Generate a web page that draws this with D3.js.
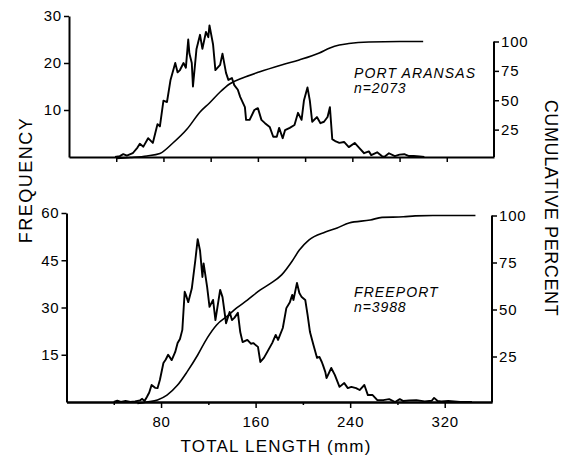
<!DOCTYPE html>
<html>
<head>
<meta charset="utf-8">
<script src="https://cdn.jsdelivr.net/npm/d3@7"></script>
<style>
  html, body { margin: 0; padding: 0; background: #fff; }
  svg { display: block; }
  text { font-family: "Liberation Sans", Arial, Helvetica, sans-serif; fill: #000; }
</style>
</head>
<body>
<svg id="chart" width="564" height="456"></svg>
<script>
// Total length axis (mm), shared by both panels
const lengthDomain = [0, 360];
const lengthTicksMinor = [40, 120, 200, 280];
const lengthTicksMajor = [80, 160, 240, 320];
const lengthTicksAll = [40, 80, 120, 160, 200, 240, 280, 320];

// Port Aransas: frequency by total length
const paLength = [39,43,46,49,54,58,60,63,67,71,75,77,80,83,86,90,92,94,97,99,101,102,104,105,108,111,113,116,118,119,122,124,128,130,133,135,138,140,143,145,149,150,153,157,160,163,166,170,173,176,178,181,183,187,191,194,197,199,202,204,206,210,213,216,219,221,223,226,229,233,237,242,246,250,254,256,261,265,267,271,276,280,284,288,292,297,301];
const paFreq   = [0,0.2,0.6,0.3,0.8,2,2.8,2.2,4,3,7,6.5,12,11.7,16.4,20,18,18.5,20,19,25,22,20,15,23,26,23,26.6,25.5,28,24,18.5,19.6,22,17.9,16.4,16.8,15.3,14.3,12.8,10.6,7.9,7.9,10,10.4,7.9,7.2,6.4,4.3,4.3,6.2,4,5.7,6.2,6.8,9.4,7.9,12,14.8,12,7.5,8.5,7.2,7.5,8.5,10.6,3.8,3.3,3,3.2,2.1,3,1.9,0.8,1.2,0.4,1,0.2,0,0.8,0.2,0.5,0.6,0.2,0.2,0.1,0];
// Port Aransas: cumulative percent
const paCumLength = [40,52,66,77,88,100,111,119,128,136,147,161,180,195,212,221,229,237,254,280,300];
const paCumPct    = [0.5,1.3,2.6,4.7,13.6,25.5,40,47.7,57,63.8,68.9,74,80,84.3,90.2,94.5,97,98.3,99.6,100,100];

// Freeport: frequency by total length
const fpLength = [40,43,46,50,54,58,62,64,66,68,70,72,75,77,79,82,84,86,89,92,94,96,98,100,101,103,106,109,111,113,115,116,119,121,124,126,130,132,135,138,140,142,145,147,149,153,156,158,162,164,167,170,174,177,179,183,186,189,191,192,195,197,199,202,204,206,209,212,214,216,217,219,220,224,227,231,235,238,241,245,248,252,255,259,263,268,273,278,282,285,290,296,303,309,311,314,317,323,333,343];
const fpFreq   = [0,0.4,0,0.3,0,0.2,0.5,1,0.3,1.6,3,5.4,4.5,4.4,7,12.4,13.5,15,13.3,15.9,18.7,20,22.9,35,34,31.7,36,45,51.7,48,39.7,44,36.5,30.2,32.4,26,35.6,33.3,25,28.6,26,26.7,28.3,22.2,19,19.7,18.5,18.7,17.5,12.7,14,16,18.7,21.3,19.7,23.5,29.8,31.7,34,32.4,37.8,34.6,33.3,32.4,27.6,22.2,18,14,14.3,12.7,11.7,9.5,7.6,10.8,8.6,4.8,6,4.4,4.8,4.4,3.8,5.4,2.2,2.2,0.6,0.6,0.9,0,0.9,0.3,0.5,0.6,0.2,0.4,1.3,0.3,0.2,0.3,0,0];
// Freeport: cumulative percent
const fpCumLength = [60,68,77,85,94,102,111,119,127,136,144,153,164,172,182,191,197,205,219,229,239,257,267,285,295,310,332,346];
const fpCumPct    = [0,0.8,1.9,4.5,9.8,16.8,25.8,34.8,41.8,46.5,50.8,55,60.4,63.6,68.4,75.8,81.6,86.9,91.2,93.4,96,97.6,99,99.3,99.8,100,100,100];

// Left and right axis ticks
const paFreqTicks = [10, 20, 30];
const fpFreqTicks = [15, 30, 45, 60];
const pctTicks = [25, 50, 75, 100];

const svg = d3.select("#chart");

function zip(xs, ys) { return xs.map((x, i) => ({ x, y: ys[i] })); }

function drawPanel(cfg) {
  const g = svg.append("g");
  const x = d3.scaleLinear().domain(lengthDomain).range(cfg.xRange);
  const yF = d3.scaleLinear().domain(cfg.freqDomain).range(cfg.yRange);
  const yC = d3.scaleLinear().domain([0, 100]).range(cfg.pctRange);

  // cumulative percent curve (smooth)
  const cumLine = d3.line().x(d => x(d.x)).y(d => yC(d.y)).curve(d3.curveMonotoneX);
  g.append("path")
    .datum(zip(cfg.cumLength, cfg.cumPct))
    .attr("d", cumLine)
    .attr("fill", "none").attr("stroke", "#000").attr("stroke-width", 1.6);

  // frequency polygon
  const freqLine = d3.line().x(d => x(d.x)).y(d => yF(d.y));
  g.append("path")
    .datum(zip(cfg.length, cfg.freq))
    .attr("d", freqLine)
    .attr("fill", "none").attr("stroke", "#000").attr("stroke-width", 1.9)
    .attr("stroke-linejoin", "round");

  const y0 = cfg.yRange[0];

  // bottom axis
  if (cfg.labelX) {
    g.append("g").attr("transform", `translate(0,${y0})`)
      .call(d3.axisBottom(x).tickValues(lengthTicksMinor).tickSizeInner(3).tickSizeOuter(0).tickFormat(""));
    g.append("g").attr("class", "xl").attr("transform", `translate(0,${y0})`)
      .call(d3.axisBottom(x).tickValues(lengthTicksMajor).tickSizeInner(6).tickSizeOuter(0).tickPadding(8));
  } else {
    g.append("g").attr("transform", `translate(0,${y0})`)
      .call(d3.axisBottom(x).tickValues(lengthTicksAll).tickSizeInner(5).tickSizeOuter(0).tickFormat(""));
  }

  // left frequency axis
  g.append("g").attr("transform", `translate(${cfg.xRange[0]},0)`)
    .call(d3.axisLeft(yF).tickValues(cfg.freqTicks).tickSizeInner(5).tickSizeOuter(0).tickPadding(2));

  // right cumulative percent axis
  g.append("g").attr("class", "ra").attr("transform", `translate(${cfg.xRange[1]},0)`)
    .call(d3.axisRight(yC).tickValues(pctTicks).tickSizeInner(5).tickSizeOuter(0).tickPadding(2));

  // right axis line stops at the baseline
  g.select(".ra .domain").attr("d", `M0,${yC(100)}V${y0}`);

  // site label
  g.append("text").attr("x", cfg.labelPos[0]).attr("y", cfg.labelPos[1])
    .attr("font-style", "italic").attr("font-size", 14).attr("letter-spacing", 1.1)
    .text(cfg.site);
  g.append("text").attr("x", cfg.labelPos[0]).attr("y", cfg.labelPos[1] + 15)
    .attr("font-style", "italic").attr("font-size", 14).attr("letter-spacing", 0.9)
    .text(cfg.n);

  return g;
}

drawPanel({
  xRange: [69, 494], yRange: [157, 16], pctRange: [159, 41.5],
  freqDomain: [0, 30], freqTicks: paFreqTicks,
  length: paLength, freq: paFreq, cumLength: paCumLength, cumPct: paCumPct,
  site: "PORT ARANSAS", n: "n=2073", labelPos: [354, 78], labelX: false
});

drawPanel({
  xRange: [66.5, 492], yRange: [402, 213], pctRange: [403.5, 215.5],
  freqDomain: [0, 60], freqTicks: fpFreqTicks,
  length: fpLength, freq: fpFreq, cumLength: fpCumLength, cumPct: fpCumPct,
  site: "FREEPORT", n: "n=3988", labelPos: [354, 297], labelX: true
});

// axis styling
svg.selectAll(".domain").attr("stroke", "#000").attr("stroke-width", 2);
svg.selectAll(".tick line").attr("stroke", "#000").attr("stroke-width", 1.5);
svg.selectAll(".tick text")
  .attr("font-family", "'Liberation Sans', Arial, Helvetica, sans-serif")
  .attr("font-size", 15).attr("letter-spacing", 0.8).attr("fill", "#000");

// axis titles
svg.append("text")
  .attr("transform", "translate(32,180) rotate(-90)")
  .attr("text-anchor", "middle").attr("font-size", 18).attr("letter-spacing", 1.5)
  .text("FREQUENCY");

svg.append("text")
  .attr("transform", "translate(545,208) rotate(90)")
  .attr("text-anchor", "middle").attr("font-size", 18).attr("letter-spacing", 0.6)
  .text("CUMULATIVE PERCENT");

svg.append("text")
  .attr("x", 276).attr("y", 452)
  .attr("text-anchor", "middle").attr("font-size", 17).attr("letter-spacing", 1.2)
  .text("TOTAL LENGTH (mm)");
</script>
</body>
</html>
